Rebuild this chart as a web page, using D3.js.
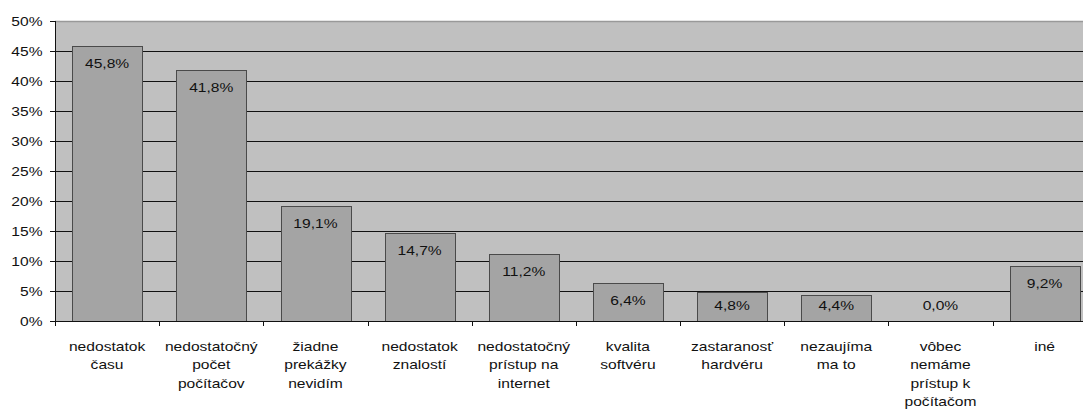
<!DOCTYPE html>
<html>
<head>
<meta charset="utf-8">
<script src="https://cdn.jsdelivr.net/npm/d3@7"></script>
<style>
  html, body { margin: 0; padding: 0; background: #fff; }
  svg { display: block; overflow: hidden; }
  text { font-family: "Liberation Sans", Arial, sans-serif; fill: #111; }
</style>
</head>
<body>
<svg id="chart" width="1083" height="412"></svg>
<script>
// Category labels (one entry per line of the wrapped label)
const categories = [
  ["nedostatok", "času"],
  ["nedostatočný", "počet", "počítačov"],
  ["žiadne", "prekážky", "nevidím"],
  ["nedostatok", "znalostí"],
  ["nedostatočný", "prístup na", "internet"],
  ["kvalita", "softvéru"],
  ["zastaranosť", "hardvéru"],
  ["nezaujíma", "ma to"],
  ["vôbec", "nemáme", "prístup k", "počítačom"],
  ["iné"]
];
// Share of respondents, in percent
const values = [45.8, 41.8, 19.1, 14.7, 11.2, 6.4, 4.8, 4.4, 0.0, 9.2];
const yTicks = [0, 5, 10, 15, 20, 25, 30, 35, 40, 45, 50];

const svg = d3.select("#chart");
const plotLeft = 55, plotTop = 21, plotBottom = 321;
const step = 104.17;
const plotRight = plotLeft + step * categories.length;
const sx = 1.2; // horizontal stretch of the lettering

const x = d3.scaleBand()
  .domain(d3.range(categories.length))
  .range([plotLeft, plotRight])
  .paddingInner(0.33)
  .paddingOuter(0.165);
const y = d3.scaleLinear().domain([0, 50]).range([plotBottom, plotTop]);

const fmt = v => v.toFixed(1).replace(".", ",") + "%";

// plot area
svg.append("rect")
  .attr("x", plotLeft).attr("y", plotTop)
  .attr("width", plotRight - plotLeft).attr("height", plotBottom - plotTop)
  .attr("fill", "#c0c0c0");

// horizontal gridlines
svg.append("g").selectAll("line")
  .data(yTicks.filter(t => t > 0 && t < 50))
  .join("line")
  .attr("x1", plotLeft).attr("x2", plotRight)
  .attr("y1", d => Math.round(y(d)) + 0.5).attr("y2", d => Math.round(y(d)) + 0.5)
  .attr("stroke", "#111").attr("stroke-width", 1.2);

// top border of the plot area
svg.append("line")
  .attr("x1", plotLeft).attr("x2", plotRight)
  .attr("y1", y(50) + 0.5).attr("y2", y(50) + 0.5)
  .attr("stroke", "#999").attr("stroke-width", 1.5);

// bars
svg.append("g").selectAll("rect")
  .data(values)
  .join("rect")
  .attr("x", (d, i) => Math.round(x(i)) + 0.5)
  .attr("y", d => Math.round(y(d)) + 0.5)
  .attr("width", Math.round(x.bandwidth()))
  .attr("height", d => Math.round(y(0)) - Math.round(y(d)))
  .attr("fill", "#a4a4a4")
  .attr("stroke", "#4a4a4a")
  .attr("stroke-width", 1);

// value labels inside the bars
svg.append("g").selectAll("text")
  .data(values)
  .join("text")
  .attr("transform", (d, i) =>
    `translate(${x(i) + x.bandwidth() / 2},${Math.min(y(d) + 22, y(0) - 11)}) scale(${sx},1)`)
  .attr("text-anchor", "middle")
  .attr("font-size", 13)
  .text(d => fmt(d));

// y axis
const yAxis = svg.append("g");
yAxis.append("line")
  .attr("x1", plotLeft + 0.5).attr("x2", plotLeft + 0.5)
  .attr("y1", plotTop).attr("y2", plotBottom + 5)
  .attr("stroke", "#111");
yAxis.selectAll("line.tick")
  .data(yTicks)
  .join("line").attr("class", "tick")
  .attr("x1", plotLeft - 5).attr("x2", plotLeft)
  .attr("y1", d => Math.round(y(d)) + 0.5).attr("y2", d => Math.round(y(d)) + 0.5)
  .attr("stroke", "#111");
yAxis.selectAll("text")
  .data(yTicks)
  .join("text")
  .attr("transform", d => `translate(${plotLeft - 12.5},${y(d) + 5}) scale(${sx},1)`)
  .attr("text-anchor", "end")
  .attr("font-size", 13)
  .text(d => d + "%");

// x axis
const xAxis = svg.append("g");
xAxis.append("line")
  .attr("x1", plotLeft).attr("x2", plotRight)
  .attr("y1", plotBottom + 0.5).attr("y2", plotBottom + 0.5)
  .attr("stroke", "#111");
xAxis.selectAll("line.tick")
  .data(d3.range(categories.length + 1))
  .join("line").attr("class", "tick")
  .attr("x1", i => Math.round(plotLeft + i * x.step()) + 0.5)
  .attr("x2", i => Math.round(plotLeft + i * x.step()) + 0.5)
  .attr("y1", plotBottom).attr("y2", plotBottom + 5)
  .attr("stroke", "#111");

const labels = xAxis.selectAll("g.cat")
  .data(categories)
  .join("g").attr("class", "cat");
labels.selectAll("text")
  .data((lines, i) => lines.map((t, k) => ({ t, k, i })))
  .join("text")
  .attr("transform", d =>
    `translate(${x(d.i) + x.bandwidth() / 2},${350.5 + d.k * 18.6}) scale(${sx},1)`)
  .attr("text-anchor", "middle")
  .attr("font-size", 13)
  .text(d => d.t);
</script>
</body>
</html>
